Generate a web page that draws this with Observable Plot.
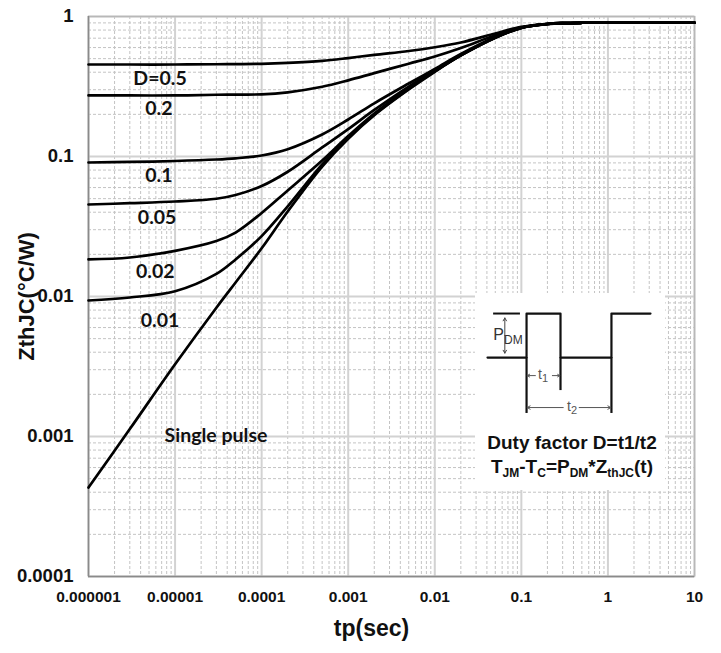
<!DOCTYPE html>
<html><head><meta charset="utf-8">
<script src="https://cdn.jsdelivr.net/npm/d3@7"></script>
<script src="https://cdn.jsdelivr.net/npm/@observablehq/plot@0.6"></script>
<style>
body{margin:0;background:#fff;}
#wrap{position:relative;width:721px;height:653px;overflow:hidden;}
#inset{position:absolute;left:475px;top:293px;width:190px;height:197px;background:#fff;}
.lbl{position:absolute;transform:translate(-50%,-50%);white-space:nowrap;font-family:'Liberation Sans',Arial,sans-serif;line-height:1;}
.sch{color:#333;font-size:16px;}
.sch sub{font-size:12px;vertical-align:-4px;}
.dim{color:#555;font-size:14px;}
.dim sub{font-size:11px;vertical-align:-3px;}
.bold{font-weight:bold;font-size:19px;color:#111;}
.bold sub{font-size:12px;vertical-align:-4px;}
</style></head><body><div id="wrap"></div>
<script>
// ---- data ----
const tp = [1e-6, 3e-6, 1e-5, 3e-5, 5e-5, 1e-4, 2e-4, 5e-4, 1e-3, 2e-3, 5e-3, 1e-2, 2e-2, 5e-2, 0.1, 0.2, 0.3, 0.5, 1, 10];
const zD050 = [0.454, 0.454, 0.454, 0.456, 0.457, 0.459, 0.466, 0.482, 0.505, 0.532, 0.567, 0.603, 0.652, 0.756, 0.844, 0.884, 0.897, 0.902, 0.902, 0.902];
const zD020 = [0.273, 0.273, 0.273, 0.276, 0.277, 0.278, 0.2875, 0.315, 0.350, 0.394, 0.460, 0.518, 0.596, 0.735, 0.835, 0.884, 0.897, 0.902, 0.902, 0.902];
const zD010 = [0.0906, 0.0914, 0.0929, 0.0952, 0.0971, 0.1017, 0.1127, 0.1436, 0.1837, 0.2399, 0.332, 0.4217, 0.540, 0.714, 0.833, 0.884, 0.897, 0.902, 0.902, 0.902];
const zD005 = [0.0454, 0.0464, 0.0477, 0.0499, 0.0531, 0.0615, 0.0778, 0.116, 0.157, 0.215, 0.316, 0.411, 0.533, 0.709, 0.832, 0.884, 0.897, 0.902, 0.902, 0.902];
const zD002 = [0.0184, 0.0190, 0.0212, 0.0249, 0.0286, 0.0395, 0.0572, 0.0936, 0.140, 0.203, 0.307, 0.407, 0.529, 0.707, 0.830, 0.884, 0.897, 0.902, 0.902, 0.902];
const zD001 = [0.00936, 0.00984, 0.0109, 0.0145, 0.0184, 0.0270, 0.0440, 0.0877, 0.1367, 0.1995, 0.304, 0.405, 0.527, 0.706, 0.830, 0.884, 0.897, 0.902, 0.902, 0.902];
const zSingle = [0.000432, 0.00113, 0.00328, 0.00832, 0.0126, 0.0221, 0.0405, 0.0848, 0.134, 0.197, 0.301, 0.403, 0.527, 0.706, 0.830, 0.884, 0.897, 0.902, 0.902, 0.902];

const curveNames = ["0.5", "0.2", "0.1", "0.05", "0.02", "0.01", "single"];
const curveValues = [zD050, zD020, zD010, zD005, zD002, zD001, zSingle];

const labelTexts = ["D=0.5", "0.2", "0.1", "0.05", "0.02", "0.01", "Single pulse"];
const labelT = [6.7e-6, 6.5e-6, 6.5e-6, 6.2e-6, 5.9e-6, 6.7e-6, 2.97e-5];
const labelZ = [0.361, 0.220, 0.0732, 0.0367, 0.0151, 0.00674, 0.00102];

const xTicks = [1e-6, 1e-5, 1e-4, 1e-3, 1e-2, 1e-1, 1, 10];
const xTickLabels = ["0.000001", "0.00001", "0.0001", "0.001", "0.01", "0.1", "1", "10"];
const yTicks = [1e-4, 1e-3, 1e-2, 1e-1, 1];
const yTickLabels = ["0.0001", "0.001", "0.01", "0.1", "1"];

// schematic (inset) waveform in units of t1 / PDM
const waveT = [-1.15, 0, 0, 1, 1, 2.5, 2.5, 3.65];
const waveP = [0, 0, 1, 1, 0, 0, 1, 1];

// ---- build ----
const rows = curveNames.flatMap((n, k) => tp.map((t, i) => ({t, z: curveValues[k][i], s: n})));
const labels = labelTexts.map((text, i) => ({text, t: labelT[i], z: labelZ[i]}));
const minorX = d3.range(-6, 1).flatMap(e => d3.range(2, 10).map(m => m * Math.pow(10, e)));
const minorY = d3.range(-4, 0).flatMap(e => d3.range(2, 10).map(m => m * Math.pow(10, e)));
const xFmt = new Map(xTicks.map((v, i) => [v, xTickLabels[i]]));
const yFmt = new Map(yTicks.map((v, i) => [v, yTickLabels[i]]));
const font = "'Liberation Sans', Arial, sans-serif";

const chart = Plot.plot({
  width: 721, height: 653,
  marginLeft: 88, marginRight: 27, marginTop: 16, marginBottom: 77,
  style: {background: "#fff", fontFamily: font, color: "#111"},
  x: {type: "log", domain: [1e-6, 10]},
  y: {type: "log", domain: [1e-4, 1]},
  marks: [
    Plot.ruleX(minorX, {stroke: "#c4c4c4", strokeWidth: 1, strokeDasharray: "3,2"}),
    Plot.ruleY(minorY, {stroke: "#c4c4c4", strokeWidth: 1, strokeDasharray: "3,2"}),
    Plot.ruleX(xTicks, {stroke: "#d2d2d2", strokeWidth: 2}),
    Plot.ruleY(yTicks, {stroke: "#d2d2d2", strokeWidth: 2}),
    Plot.frame({stroke: "#b8b8b8", strokeWidth: 1.5}),
    Plot.ruleX([1e-6], {stroke: "#8a8a8a", strokeWidth: 1.5}),
    Plot.ruleY([1e-4], {stroke: "#8a8a8a", strokeWidth: 1.5}),
    Plot.line(rows, {x: "t", y: "z", z: "s", stroke: "#000", strokeWidth: 2.7, curve: "catmull-rom"}),
    Plot.text(labels, {x: "t", y: "z", text: "text", fontFamily: "Lato, 'Open Sans', sans-serif", fontWeight: "bold", fontSize: 19.5, fill: "#111"}),
    Plot.axisX({ticks: xTicks, tickFormat: d => xFmt.get(d), tickSize: 0, tickPadding: 14, fontSize: 15.5, fontWeight: "bold", label: null}),
    Plot.axisY({ticks: yTicks, tickFormat: d => yFmt.get(d), tickSize: 0, tickPadding: 15, fontSize: 18.5, fontWeight: "bold", label: null}),
    Plot.text(["tp(sec)"], {frameAnchor: "bottom", lineAnchor: "middle", textAnchor: "middle", dx: -20, dy: 52, fontSize: 23, fontWeight: "bold", fill: "#111"}),
    Plot.text(["ZthJC(°C/W)"], {frameAnchor: "left", lineAnchor: "middle", textAnchor: "middle", rotate: -90, dx: -62, fontSize: 22, fontWeight: "bold", fill: "#111"})
  ]
});
const wrap = document.getElementById("wrap");
wrap.appendChild(chart);

// ---- inset schematic ----
const inset = document.createElement("div");
inset.id = "inset";
const sch = Plot.plot({
  width: 190, height: 197,
  marginLeft: 12, marginRight: 15, marginTop: 0, marginBottom: 0,
  x: {domain: [-1.15, 3.65], axis: null},
  y: {domain: [-3.02, 1.455], axis: null},
  style: {background: "transparent", overflow: "visible"},
  marks: [
    Plot.line(waveT.map((t, i) => ({t, p: waveP[i]})), {x: "t", y: "p", stroke: "#111", strokeWidth: 2.2}),
    Plot.ruleY([1], {x1: -0.97, x2: -0.18, stroke: "#111", strokeWidth: 2}),
    Plot.ruleX([0, 2.5], {y1: 0, y2: -1.27, stroke: "#111", strokeWidth: 2.2}),
    Plot.ruleX([1], {y1: 0, y2: -0.75, stroke: "#111", strokeWidth: 2.2}),
    Plot.arrow([{a: 0.5, b: 0.1}, {a: 0.5, b: 0.9}], {x1: -0.64, x2: -0.64, y1: "a", y2: "b", stroke: "#444", strokeWidth: 1, headLength: 5}),
    Plot.arrow([{a: 0.26, b: 0.02}, {a: 0.76, b: 0.98}], {x1: "a", x2: "b", y1: -0.41, y2: -0.41, stroke: "#555", strokeWidth: 1, headLength: 5}),
    Plot.arrow([{a: 1.08, b: 0.02}, {a: 1.55, b: 2.48}], {x1: "a", x2: "b", y1: -1.136, y2: -1.136, stroke: "#555", strokeWidth: 1, headLength: 5})
  ]
});
inset.appendChild(sch);
wrap.appendChild(inset);

function addLabel(html, cls, x, y) {
  const d = document.createElement("div");
  d.className = "lbl " + cls;
  d.innerHTML = html;
  d.style.left = x + "px";
  d.style.top = y + "px";
  wrap.appendChild(d);
}
addLabel("P<sub>DM</sub>", "sch", 508, 336);
addLabel("t<sub>1</sub>", "dim", 543, 375);
addLabel("t<sub>2</sub>", "dim", 572, 407);
addLabel("Duty factor D=t1/t2", "bold", 572, 442);
addLabel("T<sub>JM</sub>-T<sub>C</sub>=P<sub>DM</sub>*Z<sub>thJC</sub>(t)", "bold", 572, 468);
</script>
</body></html>
